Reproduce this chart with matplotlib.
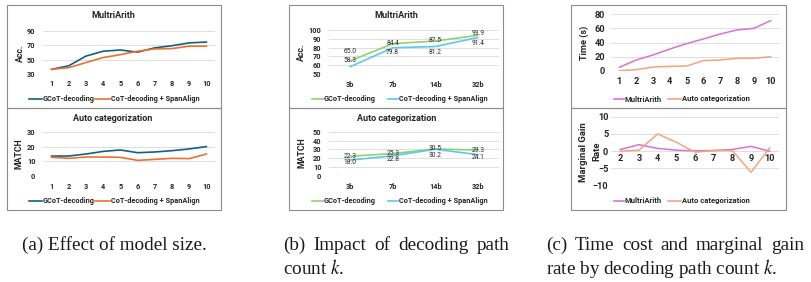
import numpy as np
import matplotlib
matplotlib.use("Agg")
import matplotlib.pyplot as plt
from matplotlib.lines import Line2D
from matplotlib.patches import Rectangle

# ---------------- data ----------------
k_paths = [1, 2, 3, 4, 5, 6, 7, 8, 9, 10]

# (a) effect of k
arith_gcot = [36.5, 41.5, 55.0, 61.8, 63.5, 60.5, 66.5, 69.5, 73.4, 74.6]
arith_span = [36.5, 38.8, 46.0, 53.0, 57.0, 61.8, 65.0, 65.5, 68.8, 68.8]
auto_gcot = [13.6, 13.6, 15.0, 16.8, 17.8, 15.9, 16.4, 17.3, 18.5, 20.1]
auto_span = [12.7, 12.0, 12.9, 12.9, 12.7, 10.6, 11.3, 12.0, 11.8, 15.0]

# (b) model size
sizes = ["3b", "7b", "14b", "32b"]
size_arith_gcot = [65.0, 84.4, 87.5, 93.9]
size_arith_span = [58.3, 79.8, 81.2, 91.4]
size_auto_gcot = [22.3, 25.3, 30.5, 29.3]
size_auto_span = [18.0, 22.8, 30.2, 24.1]

# (c) time cost and marginal gain
time_arith = [5.2, 15.5, 22.6, 31.0, 38.6, 45.2, 52.2, 57.9, 60.2, 71.0]
time_auto = [0.5, 1.9, 5.6, 6.6, 7.0, 14.6, 15.5, 17.9, 17.9, 20.2]
gain_k = [2, 3, 4, 5, 6, 7, 8, 9, 10]
gain_arith = [0.5, 1.9, 0.8, 0.3, 0.1, 0.2, 0.5, 1.4, 0.0]
gain_auto = [0.0, 0.3, 5.0, 2.6, -0.3, 0.2, 0.2, -6.1, 1.0]

# ---------------- style ----------------
W, H = 812, 282
SANS = ["Liberation Sans Narrow", "Roboto", "DejaVu Sans"]
plt.rcParams["font.family"] = SANS
plt.rcParams["mathtext.fontset"] = "stix"

DARK = "#156082"
ORANGE = "#E97132"
GREEN = "#8ED36B"
LBLUE = "#5CC8F2"
PINK = "#DA72D6"
PEACH = "#F2A57C"
GRID = "#D9D9D9"
TXT = "#262626"

fig = plt.figure(figsize=(W / 100, H / 100), dpi=100)


def add_ax(l, t, r, b):
    return fig.add_axes([l / W, 1 - b / H, (r - l) / W, (b - t) / H])


def box(l, t, r, b):
    fig.add_artist(Rectangle((l / W, 1 - b / H), (r - l) / W, (b - t) / H,
                             transform=fig.transFigure, fill=False,
                             edgecolor="#8C8C8C", lw=0.8))


def ftext(x, y, s, **kw):
    return fig.text(x / W, 1 - y / H, s, **kw)


def legend(items, y, size=5.3):
    for x1, x2, c, lab in items:
        fig.add_artist(Line2D([x1 / W, x2 / W], [1 - y / H, 1 - y / H],
                              transform=fig.transFigure, color=c, lw=1.2))
        ftext(x2 + 1, y, lab, fontsize=size, color=TXT, va="center",
              ha="left", fontweight="bold")


def style(ax, ylim, yticks, ypad, xpad, size=5.3):
    ax.set_ylim(*ylim)
    ax.set_yticks(yticks)
    ax.grid(axis="y", color=GRID, lw=0.6)
    ax.set_axisbelow(True)
    for s in ax.spines.values():
        s.set_visible(False)
    ax.tick_params(length=0, labelsize=size, labelcolor=TXT)
    ax.tick_params(axis="y", pad=ypad)
    ax.tick_params(axis="x", pad=xpad)
    for t in ax.get_xticklabels() + ax.get_yticklabels():
        t.set_fontweight("bold")
    ax.patch.set_alpha(0)


# panel borders
for l, r in [(7, 221), (289, 503), (571, 786)]:
    box(l, 5, r, 108)
    box(l, 108, r, 210)

# ---------- (a) effect of path count ----------
ax = add_ax(43, 31, 215, 74)
ax.plot(k_paths, arith_gcot, color=DARK, lw=1.2)
ax.plot(k_paths, arith_span, color=ORANGE, lw=1.2)
ax.set_xlim(0.5, 10.5)
ax.set_xticks(k_paths)
style(ax, (30, 90), [30, 50, 70, 90], 5.5, 4.5)
ftext(113, 16, "MultriArith", fontsize=6.5, fontweight="bold", ha="center", va="center", color=TXT)
ftext(20, 53, "Acc.", fontsize=6.3, fontweight="bold", rotation=90, ha="center", va="center", color=TXT)
legend([(29, 42, DARK, "GCoT-decoding"), (95, 110, ORANGE, "CoT-decoding + SpanAlign")], 99)

ax = add_ax(43, 132.3, 215, 175.7)
ax.plot(k_paths, auto_gcot, color=DARK, lw=1.2)
ax.plot(k_paths, auto_span, color=ORANGE, lw=1.2)
ax.set_xlim(0.5, 10.5)
ax.set_xticks(k_paths)
style(ax, (0, 30), [0, 10, 20, 30], 5.5, 5.2)
ftext(113, 118.3, "Auto categorization", fontsize=6.5, fontweight="bold", ha="center", va="center", color=TXT)
ftext(19, 154, "MATCH", fontsize=6.3, fontweight="bold", rotation=90, ha="center", va="center", color=TXT)
legend([(29, 42, DARK, "GCoT-decoding"), (95, 110, ORANGE, "CoT-decoding + SpanAlign")], 201)

# ---------- (b) model size ----------
xs = np.arange(len(sizes))


def labels(ax, vals, offs):
    for i, (v, o) in enumerate(zip(vals, offs)):
        ax.annotate(f"{v:.1f}", (i, v), xytext=(0, o), textcoords="offset points",
                    ha="center", va="center", fontsize=4.8, color=TXT)


ax = add_ax(329, 30, 499, 74)
ax.plot(xs, size_arith_gcot, color=GREEN, lw=1.2)
ax.plot(xs, size_arith_span, color=LBLUE, lw=1.2)
labels(ax, size_arith_gcot, [6.5, 0.5, 0.5, 1])
labels(ax, size_arith_span, [4.5, -3.5, -4, -4])
ax.set_xlim(-0.5, 3.5)
ax.set_xticks(xs, sizes)
style(ax, (50, 100), [50, 60, 70, 80, 90, 100], 5.5, 5.2)
ftext(396.7, 16, "MultriArith", fontsize=6.5, fontweight="bold", ha="center", va="center", color=TXT)
ftext(301, 52, "Acc.", fontsize=6.3, fontweight="bold", rotation=90, ha="center", va="center", color=TXT)
legend([(311.7, 323, GREEN, "GCoT-decoding"), (388, 398, LBLUE, "CoT-decoding + SpanAlign")], 99)

ax = add_ax(329, 131.7, 499, 176)
ax.plot(xs, size_auto_gcot, color=GREEN, lw=1.2)
ax.plot(xs, size_auto_span, color=LBLUE, lw=1.2)
labels(ax, size_auto_gcot, [0, 0, 0.5, 0])
labels(ax, size_auto_span, [-1.5, -2.5, -4.5, -2])
ax.set_xlim(-0.5, 3.5)
ax.set_xticks(xs, sizes)
style(ax, (0, 50), [0, 10, 20, 30, 40, 50], 5.5, 5.2)
ftext(396.7, 118.3, "Auto categorization", fontsize=6.5, fontweight="bold", ha="center", va="center", color=TXT)
ftext(301.7, 153, "MATCH", fontsize=6.3, fontweight="bold", rotation=90, ha="center", va="center", color=TXT)
legend([(311.7, 323, GREEN, "GCoT-decoding"), (388, 398, LBLUE, "CoT-decoding + SpanAlign")], 201)

# ---------- (c) time cost / marginal gain ----------
ax = add_ax(611, 14.3, 779, 71)
ax.plot(k_paths, time_arith, color=PINK, lw=1.1)
ax.plot(k_paths, time_auto, color=PEACH, lw=1.1)
ax.set_xlim(0.5, 10.5)
ax.set_xticks(k_paths)
style(ax, (0, 80), [0, 20, 40, 60, 80], 4.5, 4.5, size=6.6)
ftext(584, 43, "Time (s)", fontsize=6.6, fontweight="bold", rotation=90, ha="center", va="center", color=TXT)
legend([(614, 624, PINK, "MultriArith"), (668, 681, PEACH, "Auto categorization")], 99, size=5.5)

ax = add_ax(611, 116.7, 779, 185.7)
ax.plot(gain_k, gain_arith, color=PINK, lw=1.1)
ax.plot(gain_k, gain_auto, color=PEACH, lw=1.1)
ax.set_xlim(1.5, 10.5)
ax.set_xticks([])
style(ax, (-10, 10), [-10, -5, 0, 5, 10], 2.0, 4.5, size=6.6)
for kk in gain_k:
    ax.annotate(str(kk), (kk, 0), xytext=(0, -2), textcoords="offset points",
                ha="center", va="top", fontsize=6.6, fontweight="bold", color=TXT)
ftext(584, 151.7, "Marginal Gain", fontsize=6.8, fontweight="bold", rotation=90, ha="center", va="center", color=TXT)
ftext(597, 151.7, "Rate", fontsize=6.8, fontweight="bold", rotation=90, ha="center", va="center", color=TXT)
legend([(614, 624, PINK, "MultriArith"), (668, 681, PEACH, "Auto categorization")], 200.7, size=5.5)

# ---------- captions ----------
CAP = dict(fontsize=13.8, family=["Liberation Serif", "DejaVu Serif"], color="#1a1a1a", va="center", ha="left")


def justified(words, x0, x1, y):
    # spread the words over [x0, x1] like a justified LaTeX line
    arts = [ftext(x0, y, w, **CAP) for w in words]
    r = fig.canvas.get_renderer()
    widths = [a.get_window_extent(r).width for a in arts]
    gap = (x1 - x0 - sum(widths)) / (len(words) - 1)
    x = x0
    for a, w in zip(arts, widths):
        a.set_x(x / W)
        x += w + gap


ftext(114, 245, "(a) Effect of model size.", **{**CAP, "ha": "center"})
justified(["(b)", "Impact", "of", "decoding", "path"], 283, 510, 245)
ftext(283, 268, "count $k$.", **CAP)
justified(["(c)", "Time", "cost", "and", "marginal", "gain"], 546, 804, 245)
ftext(546, 268, "rate by decoding path count $k$.", **CAP)

fig.savefig("out.png", dpi=100)
